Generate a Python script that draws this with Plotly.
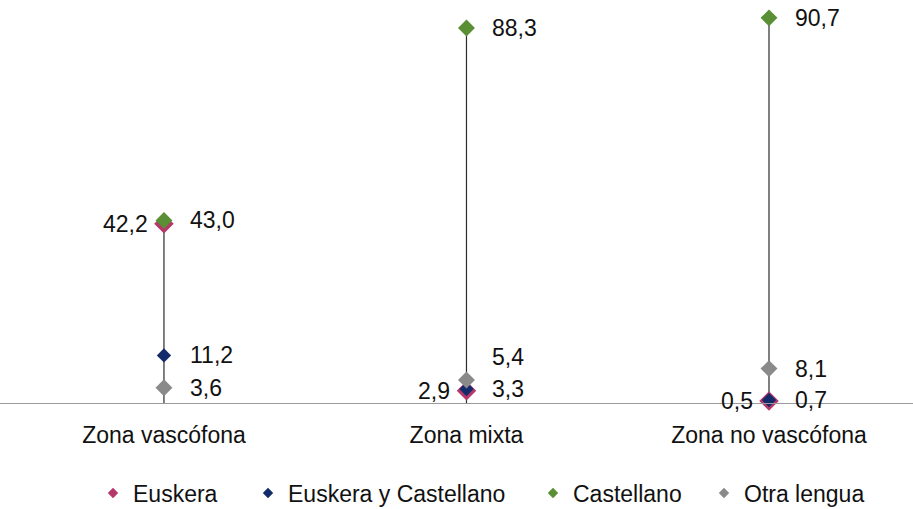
import plotly.graph_objects as go

categories = ["Zona vascófona", "Zona mixta", "Zona no vascófona"]
series_names = ["Euskera", "Euskera y Castellano", "Castellano", "Otra lengua"]
euskera = [42.2, 2.9, 0.5]
euskera_castellano = [11.2, 3.3, 0.7]
castellano = [43.0, 88.3, 90.7]
otra_lengua = [3.6, 5.4, 8.1]

series_values = [euskera, euskera_castellano, castellano, otra_lengua]
colors = ["#B5386A", "#132A6B", "#5A8F35", "#8A8A8A"]
sizes = [15, 11, 13, 13]
label_side = ["left", "right", "right", "right"]
legend_ids = ["legend", "legend2", "legend3", "legend4"]
legend_px = [93, 248, 533, 704]  # left edge of each legend entry, in pixels

FONT = "Liberation Sans, Arial, sans-serif"
FS = 23
W, H = 913, 509

def fmt(v):
    return f"{v:.1f}".replace(".", ",")

fig = go.Figure()

# high-low lines from baseline to max for each category
for i, cat in enumerate(categories):
    top = max(s[i] for s in series_values)
    fig.add_trace(go.Scatter(x=[cat, cat], y=[0, top], mode="lines",
                             line=dict(color="#2b2b2b", width=1.2),
                             showlegend=False, hoverinfo="skip", cliponaxis=False))

# markers (drawn in series order)
for name, vals, col, sz in zip(series_names, series_values, colors, sizes):
    fig.add_trace(go.Scatter(x=categories, y=vals, mode="markers", name=name,
                             marker=dict(symbol="diamond", size=sz, color=col,
                                         line=dict(width=0)),
                             showlegend=False, cliponaxis=False))

# legend-only entries with small markers
for name, col, lid in zip(series_names, colors, legend_ids):
    fig.add_trace(go.Scatter(x=[None], y=[None], mode="markers", name=name,
                             legend=lid,
                             marker=dict(symbol="diamond", size=8, color=col)))

# data labels
extra_yshift = {("Otra lengua", 1): 23}
for name, vals, side in zip(series_names, series_values, label_side):
    for i, v in enumerate(vals):
        fig.add_annotation(x=categories[i], y=v, xref="x", yref="y",
                           text=fmt(v), showarrow=False,
                           xanchor="right" if side == "left" else "left",
                           xshift=-14 if side == "left" else 24,
                           yshift=extra_yshift.get((name, i), 0),
                           font=dict(family=FONT, size=FS, color="#111111"))

legend_common = dict(orientation="h", xanchor="left", yref="container",
                     y=1 - 493 / H, yanchor="middle",
                     font=dict(family=FONT, size=FS, color="#111111"),
                     itemwidth=30, bgcolor="rgba(0,0,0,0)")
legends = {}
for lid, px in zip(legend_ids, legend_px):
    legends[lid] = dict(legend_common, x=px / W, xref="container")

fig.update_layout(
    width=W, height=H,
    margin=dict(l=0, r=0, t=0, b=106, autoexpand=False),
    paper_bgcolor="white", plot_bgcolor="white",
    font=dict(family=FONT, size=FS, color="#111111"),
    showlegend=True,
    xaxis=dict(type="category", categoryorder="array", categoryarray=categories,
               range=[-0.542, 2.476], showgrid=False, zeroline=False,
               showline=True, linecolor="#9A9A9A", linewidth=1.2,
               ticks="", ticklabelstandoff=11,
               tickfont=dict(family=FONT, size=FS, color="#111111")),
    yaxis=dict(range=[0, 94.9], showgrid=False, zeroline=False, showline=False,
               showticklabels=False, ticks=""),
    **legends,
)

fig.write_html("out.html", config={"displayModeBar": False},
               post_script="document.body.style.margin='0';document.body.style.overflow='hidden';")
